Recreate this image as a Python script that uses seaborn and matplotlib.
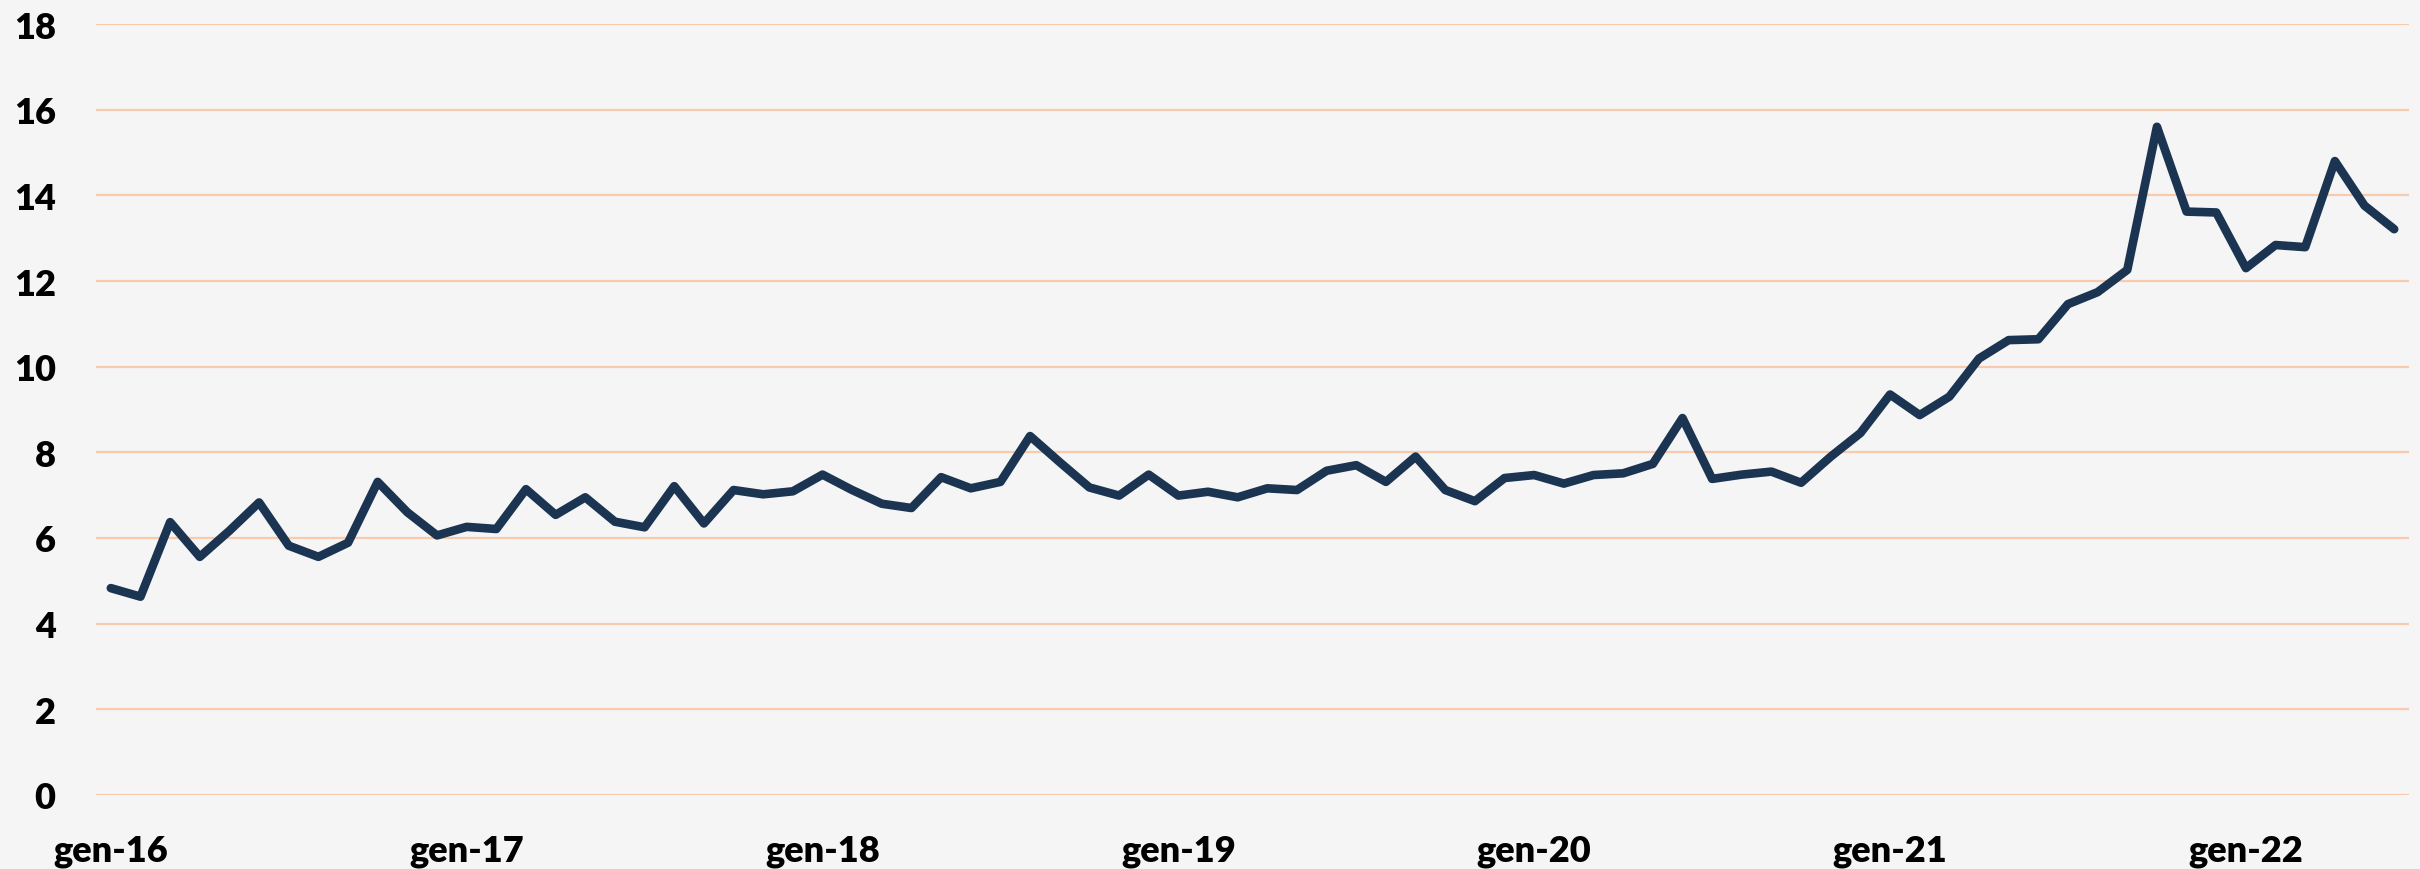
import numpy as np
import pandas as pd
import seaborn as sns
import matplotlib.pyplot as plt

# Monthly values, gen-16 .. giu-22
months = pd.date_range('2016-01-01', '2022-06-01', freq='MS')
values = [
    4.83, 4.63, 6.37, 5.56, 6.17, 6.83, 5.82, 5.56, 5.89, 7.31, 6.60, 6.06,
    6.26, 6.21, 7.14, 6.54, 6.95, 6.38, 6.25, 7.21, 6.34, 7.12, 7.02, 7.09,
    7.48, 7.12, 6.80, 6.70, 7.42, 7.16, 7.31, 8.38, 7.77, 7.18, 6.99, 7.48,
    6.99, 7.08, 6.95, 7.16, 7.12, 7.57, 7.70, 7.31, 7.90, 7.12, 6.86, 7.40,
    7.47, 7.27, 7.47, 7.51, 7.73, 8.80, 7.38, 7.48, 7.55, 7.29, 7.90, 8.45,
    9.35, 8.87, 9.30, 10.19, 10.62, 10.64, 11.46, 11.74, 12.26, 15.60, 13.62, 13.60,
    12.30, 12.84, 12.79, 14.80, 13.76, 13.21,
]
tick_labels = ['gen-16', 'gen-17', 'gen-18', 'gen-19', 'gen-20', 'gen-21', 'gen-22']
y_ticks = list(range(0, 20, 2))

df = pd.DataFrame({'idx': np.arange(len(months)), 'value': values})

sns.set_theme(style='white')
plt.rcParams['font.family'] = ['Lato', 'DejaVu Sans']

bg = '#F5F5F5'
fig = plt.figure(figsize=(24.2, 8.7), dpi=100, facecolor=bg)
ax = fig.add_axes([96 / 2420, 1 - 796 / 870, (2409 - 96) / 2420, (796 - 25) / 870])
ax.set_facecolor(bg)

for y in y_ticks:
    ax.axhline(y, color='#F8CBAD', lw=1.6, zorder=0)

sns.lineplot(data=df, x='idx', y='value', color='#1B3452', lw=6.2,
             solid_joinstyle='round', solid_capstyle='round', ax=ax, zorder=3)

ax.set_xlim(-0.5, 77.5)
ax.set_ylim(0, 18)
ax.set_xticks(np.arange(0, 84, 12))
ax.set_xticklabels(tick_labels)
ax.set_yticks(y_ticks)
ax.set_xlabel('')
ax.set_ylabel('')
ax.tick_params(axis='x', length=0, pad=28, labelsize=26)
ax.tick_params(axis='y', length=0, pad=29, labelsize=26)
for lbl in ax.get_xticklabels() + ax.get_yticklabels():
    lbl.set_fontweight('heavy')
    lbl.set_color('#000000')
for s in ax.spines.values():
    s.set_visible(False)

fig.savefig('out.png', dpi=100, facecolor=bg)
